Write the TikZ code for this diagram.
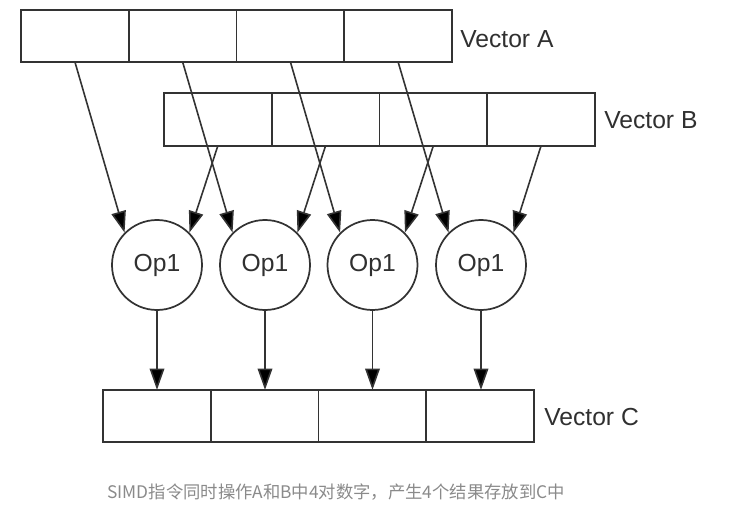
\documentclass[tikz,border=0pt]{standalone}
\usepackage{fontspec}
\setmainfont{Liberation Sans}
\newfontfamily\cjk{Noto Sans CJK SC}
\usetikzlibrary{arrows.meta}
\definecolor{ln}{HTML}{333333}
\definecolor{txt}{HTML}{303030}
\definecolor{cap}{HTML}{8A8A8A}
\tikzset{
  cell/.style={draw=ln, line width=1.4pt, rectangle, minimum width=80.8pt, minimum height=39.2pt, inner sep=0pt, outer sep=0pt},
  opnode/.style={draw=ln, line width=1.3pt, circle, minimum size=67.5pt, inner sep=0pt, text=txt, font=\fontsize{18.5}{22}\selectfont},
  lbl/.style={anchor=west, text=txt, font=\fontsize{18.5}{22}\selectfont, inner sep=0pt},
  arr/.style={draw=ln, line width=1.2pt, -{Triangle[length=16pt, width=11pt, fill=black]}}
}
\begin{document}
\begin{tikzpicture}[x=0.75pt, y=-0.75pt]
\useasboundingbox (0,0) rectangle (739,509);
% Vector A
\foreach \i/\x in {1/74.9, 2/182.6, 3/290.4, 4/398.1}
  \node[cell] (A\i) at (\x,35.75) {};
% Vector B
\foreach \i/\x in {1/217.9, 2/325.6, 3/433.4, 4/541.1}
  \node[cell] (B\i) at (\x,119.5) {};
% Vector C
\foreach \i/\x in {1/156.9, 2/264.6, 3/372.4, 4/480.1}
  \node[cell] (C\i) at (\x,416) {};
% Ops
\foreach \i/\x in {1/157, 2/265, 3/372.5, 4/481}
  \node[opnode] (O\i) at (\x,265) {Op1};
% labels
\node[lbl] (la) at (460,39) {Vector A};
\node[lbl] (lb) at (604,120) {Vector B};
\node[lbl] (lc) at (544,417) {Vector C};
\node[anchor=west, inner sep=0pt, text=cap, font=\cjk\fontsize{13}{15}\selectfont] (capt) at (107,492) {SIMD指令同时操作A和B中4对数字，产生4个结果存放到C中};
% arrows
\foreach \i in {1,2,3,4} {
  \draw[arr] (A\i.south) -- (O\i.135);
  \draw[arr] (B\i.south) -- (O\i.45);
  \draw[arr] (O\i.south) -- (O\i.south |- C\i.north);
}
\end{tikzpicture}
\end{document}
